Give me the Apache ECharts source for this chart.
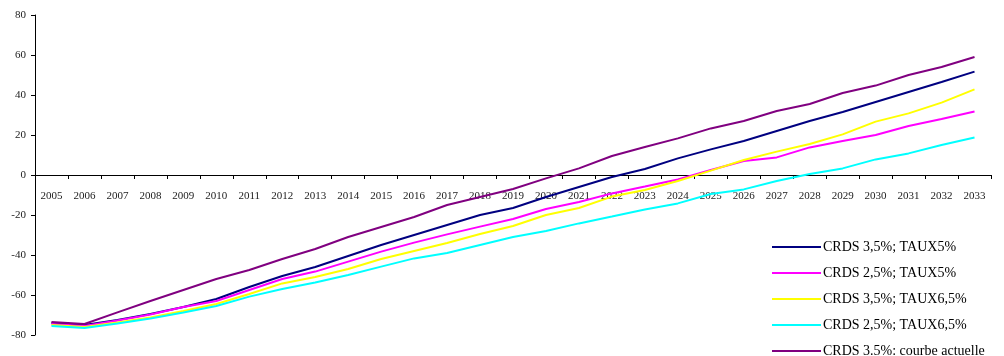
<!DOCTYPE html>
<html>
<head>
<meta charset="utf-8">
<script src="https://cdn.jsdelivr.net/npm/echarts@6/dist/echarts.min.js"></script>
<style>
  html, body { margin: 0; padding: 0; background: #fff; }
  #chart { width: 1004px; height: 356px; }
</style>
</head>
<body>
<div id="chart"></div>
<script>
// Years on the horizontal axis
const years = ['2005','2006','2007','2008','2009','2010','2011','2012','2013','2014',
  '2015','2016','2017','2018','2019','2020','2021','2022','2023','2024',
  '2025','2026','2027','2028','2029','2030','2031','2032','2033'];

// Scenario values per year
const crds35taux5 = [-74, -75, -72.5, -69.5, -66, -62, -56, -50.5, -46, -40.5,
  -35, -30, -25, -20, -16.5, -11, -6, -1, 3, 8.3,
  12.8, 17, 22, 27, 31.5, 36.5, 41.5, 46.5, 51.7];
const crds25taux5 = [-74.5, -75.5, -72.8, -69.7, -66, -63, -57.5, -52, -48.3, -43.3,
  -38.3, -33.8, -29.7, -25.8, -22, -17, -13.5, -9.2, -5.8, -2.2,
  2.5, 7, 8.8, 13.8, 17, 20, 24.5, 28, 31.7];
const crds35taux65 = [-75, -76, -73.8, -71.2, -68, -64.5, -59.5, -54.2, -51, -47,
  -42, -38, -34, -29.5, -25.5, -20, -16.5, -10.8, -7.5, -3,
  2.2, 7.5, 11.7, 15.5, 20.3, 26.7, 30.8, 36.2, 42.8];
const crds25taux65 = [-75.5, -76.5, -74.2, -71.7, -68.7, -65.5, -60.8, -57, -53.7, -50,
  -45.8, -41.7, -39, -35, -31, -28, -24.2, -20.8, -17.2, -14.2,
  -9.5, -7.2, -3, 0.5, 3.3, 7.8, 10.8, 15, 18.7];
const courbeActuelle = [-73.5, -74.5, -68.7, -63, -57.5, -52, -47.5, -42, -37, -31,
  -26, -21, -15, -11, -7, -1.7, 3.3, 9.5, 14, 18.3,
  23.3, 27, 32, 35.5, 41, 44.7, 50, 54, 59];

const seriesNames = ['CRDS 3,5%; TAUX5%', 'CRDS 2,5%; TAUX5%', 'CRDS 3,5%; TAUX6,5%',
  'CRDS 2,5%; TAUX6,5%', 'CRDS 3.5%: courbe actuelle'];
const seriesData = [crds35taux5, crds25taux5, crds35taux65, crds25taux65, courbeActuelle];
const seriesColors = ['#000080', '#FF00FF', '#FFFF00', '#00FFFF', '#800080'];

const font = 'Liberation Serif';
const gridTop = 15;
const gridBottom = 21;
const chartHeight = 356;
const chart = echarts.init(document.getElementById('chart'), null, { renderer: 'canvas' });

// The category axis sits on the zero line of the value axis (-80..80), i.e. half way down the grid.
const plotHeight = chartHeight - gridTop - gridBottom;
const zeroOffset = -plotHeight / 2;

chart.setOption({
  animation: false,
  backgroundColor: '#ffffff',
  grid: { left: 35, right: 13, top: gridTop, bottom: gridBottom, containLabel: false },
  legend: {
    orient: 'vertical',
    left: 772,
    top: 240,
    height: 200,
    padding: 0,
    icon: 'rect',
    itemWidth: 49,
    itemHeight: 2,
    itemGap: 12,
    textStyle: { fontFamily: font, fontSize: 14, color: '#000', padding: [0, 0, 0, -3] },
    data: seriesNames
  },
  xAxis: {
    type: 'category',
    data: years,
    boundaryGap: true,
    position: 'bottom',
    offset: zeroOffset,
    axisLine: { onZero: false, lineStyle: { color: '#000', width: 1 } },
    axisTick: { show: true, interval: 0, length: 4, lineStyle: { color: '#000' } },
    axisLabel: { interval: 0, margin: 16, fontFamily: font, fontSize: 11, color: '#222' },
    splitLine: { show: false }
  },
  yAxis: {
    type: 'value',
    min: -80,
    max: 80,
    interval: 20,
    axisLine: { show: true, onZero: false, lineStyle: { color: '#000', width: 1 } },
    axisTick: { show: true, length: 4, lineStyle: { color: '#000' } },
    axisLabel: { margin: 9, fontFamily: font, fontSize: 11, color: '#222' },
    splitLine: { show: false }
  },
  series: seriesNames.map((name, i) => ({
    name: name,
    type: 'line',
    data: seriesData[i],
    showSymbol: false,
    symbol: 'none',
    lineStyle: { color: seriesColors[i], width: 2 },
    itemStyle: { color: seriesColors[i] }
  }))
});
</script>
</body>
</html>
